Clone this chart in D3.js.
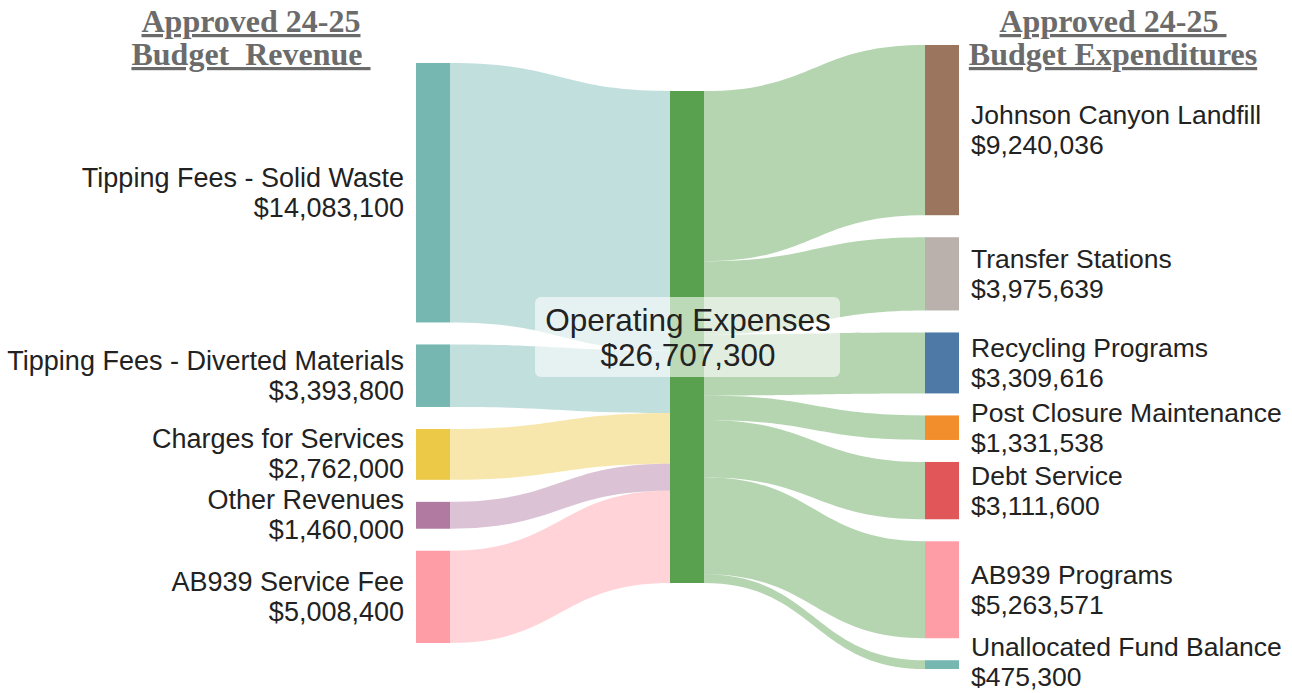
<!DOCTYPE html>
<html>
<head>
<meta charset="utf-8">
<script src="https://cdn.jsdelivr.net/npm/d3@7"></script>
<style>
  body { margin: 0; background: #fff; }
  svg { display: block; }
</style>
</head>
<body>
<svg id="chart" width="1292" height="693"></svg>
<script>
// Revenue side (sources)
const revenueNames = ['Tipping Fees - Solid Waste', 'Tipping Fees - Diverted Materials', 'Charges for Services', 'Other Revenues', 'AB939 Service Fee'];
const revenueValues = [14083100, 3393800, 2762000, 1460000, 5008400];
const revenueColors = ['#76b7b2', '#76b7b2', '#edc948', '#b07aa1', '#ff9da7'];

// Middle node
const hubName = 'Operating Expenses';
const hubColor = '#59a14f';

// Expenditure side (targets)
const expenseNames = ['Johnson Canyon Landfill', 'Transfer Stations', 'Recycling Programs', 'Post Closure Maintenance', 'Debt Service', 'AB939 Programs', 'Unallocated Fund Balance'];
const expenseValues = [9240036, 3975639, 3309616, 1331538, 3111600, 5263571, 475300];
const expenseColors = ['#9c755f', '#bab0ac', '#4e79a7', '#f28e2b', '#e15759', '#ff9da7', '#76b7b2'];

const titleLeft = ['Approved 24-25', 'Budget  Revenue '];
const titleRight = ['Approved 24-25 ', 'Budget Expenditures'];

(() => {
  const svg = d3.select('#chart');
  const H = 693;
  const fmt = d3.format('$,');
  const total = d3.sum(revenueValues);

  const nodeW = 34;
  const gap = 22;
  const col = { left: 416, mid: 670, right: 925 };
  const top = { left: 63, mid: 91, right: 45 };

  // value -> pixel height
  const h = d3.scaleLinear().domain([0, total]).range([0, 492]);

  function stack(values, y0) {
    let y = y0;
    return values.map(v => {
      const n = { y0: y, y1: y + h(v), value: v };
      y = n.y1 + gap;
      return n;
    });
  }

  const leftNodes = stack(revenueValues, top.left);
  const rightNodes = stack(expenseValues, top.right);
  const hub = { y0: top.mid, y1: top.mid + h(total) };

  // ribbon between two vertical spans
  function ribbon(xa, a0, a1, xb, b0, b1) {
    const xm = (xa + xb) / 2;
    const p = d3.path();
    p.moveTo(xa, a0);
    p.bezierCurveTo(xm, a0, xm, b0, xb, b0);
    p.lineTo(xb, b1);
    p.bezierCurveTo(xm, b1, xm, a1, xa, a1);
    p.closePath();
    return p.toString();
  }

  const links = svg.append('g').attr('fill-opacity', 0.45);

  // revenue -> hub
  let acc = hub.y0;
  leftNodes.forEach((n, i) => {
    const t0 = acc, t1 = acc + (n.y1 - n.y0);
    acc = t1;
    links.append('path')
      .attr('d', ribbon(col.left + nodeW, n.y0, n.y1, col.mid, t0, t1))
      .attr('fill', revenueColors[i]);
  });

  // hub -> expenditures
  acc = hub.y0;
  rightNodes.forEach((n, i) => {
    const s0 = acc, s1 = acc + (n.y1 - n.y0);
    acc = s1;
    links.append('path')
      .attr('d', ribbon(col.mid + nodeW, s0, s1, col.right, n.y0, n.y1))
      .attr('fill', hubColor);
  });

  // nodes
  const nodes = svg.append('g');
  nodes.selectAll('rect.left')
    .data(leftNodes)
    .join('rect')
    .attr('x', col.left)
    .attr('y', d => d.y0)
    .attr('width', nodeW)
    .attr('height', d => d.y1 - d.y0)
    .attr('fill', (d, i) => revenueColors[i]);

  nodes.append('rect')
    .attr('x', col.mid)
    .attr('y', hub.y0)
    .attr('width', nodeW)
    .attr('height', hub.y1 - hub.y0)
    .attr('fill', hubColor);

  nodes.selectAll('rect.right')
    .data(rightNodes)
    .enter()
    .append('rect')
    .attr('x', col.right)
    .attr('y', d => d.y0)
    .attr('width', nodeW)
    .attr('height', d => d.y1 - d.y0)
    .attr('fill', (d, i) => expenseColors[i]);

  const lineH = 30;
  function label(g, x, cy, lines, anchor, size) {
    const t = g.append('text')
      .attr('x', x)
      .attr('y', cy - (lines.length - 1) * lineH / 2)
      .attr('text-anchor', anchor)
      .attr('dominant-baseline', 'central')
      .style('font', `${size}px "Liberation Sans", Arial, sans-serif`)
      .attr('fill', '#222');
    lines.forEach((l, i) => {
      t.append('tspan').attr('x', x).attr('dy', i ? lineH : 0).text(l);
    });
    // keep the label inside the picture
    const bb = t.node().getBBox();
    const over = bb.y + bb.height - (H - 1);
    if (over > 0) t.attr('transform', `translate(0,${-over})`);
  }

  const labels = svg.append('g');
  leftNodes.forEach((n, i) => {
    label(labels, col.left - 12, (n.y0 + n.y1) / 2, [revenueNames[i], fmt(revenueValues[i])], 'end', 27);
  });
  rightNodes.forEach((n, i) => {
    label(labels, col.right + nodeW + 12, (n.y0 + n.y1) / 2, [expenseNames[i], fmt(expenseValues[i])], 'start', 26.5);
  });

  // hub label with translucent box
  const cy = (hub.y0 + hub.y1) / 2;
  labels.append('rect')
    .attr('x', 535).attr('y', cy - 40)
    .attr('width', 305).attr('height', 80)
    .attr('rx', 6)
    .attr('fill', '#fff').attr('fill-opacity', 0.6);
  const hubLineH = 35;
  const ht = labels.append('text')
    .attr('x', 688)
    .attr('y', cy - hubLineH / 2)
    .attr('text-anchor', 'middle')
    .attr('dominant-baseline', 'central')
    .style('font', '31.5px "Liberation Sans", Arial, sans-serif')
    .attr('fill', '#222');
  [hubName, fmt(total)].forEach((l, i) => {
    ht.append('tspan').attr('x', 688).attr('dy', i ? hubLineH : 0).text(l);
  });

  // titles
  function title(x, lines) {
    const t = svg.append('text')
      .attr('x', x)
      .attr('y', 32)
      .attr('text-anchor', 'middle')
      .style('font', 'bold 32px "Liberation Serif", "DejaVu Serif", serif')
      .style('text-decoration', 'underline')
      .attr('fill', '#6b6b6b')
      .attr('xml:space', 'preserve');
    lines.forEach((l, i) => {
      t.append('tspan').attr('x', x).attr('dy', i ? 33 : 0).text(l);
    });
  }
  title(251, titleLeft);
  title(1113, titleRight);
})();
</script>
</body>
</html>
